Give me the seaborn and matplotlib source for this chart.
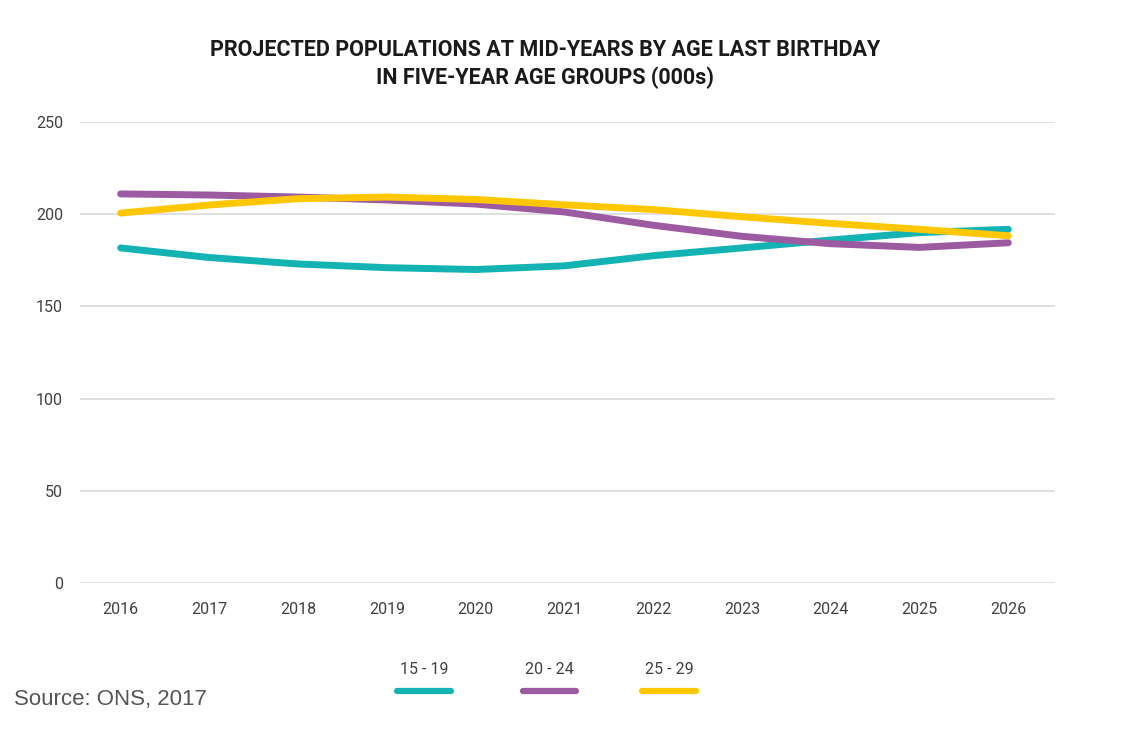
import matplotlib.pyplot as plt
import pandas as pd
import seaborn as sns
from matplotlib.lines import Line2D

# Data (thousands)
years = [2016, 2017, 2018, 2019, 2020, 2021, 2022, 2023, 2024, 2025, 2026]
age_15_19 = [181.7, 176.5, 173, 171, 170, 172, 177.5, 181.7, 186, 190, 191.8]
age_20_24 = [211, 210.4, 209.3, 207.7, 205.5, 201.2, 194, 188, 184, 182, 184.5]
age_25_29 = [200.6, 205, 208.4, 209.3, 208, 205.1, 202.5, 198.6, 195, 191.8, 188.3]
groups = ['15 - 19', '20 - 24', '25 - 29']
colors = ['#13B3B3', '#9C5AA0', '#FFC700']

df = pd.DataFrame({'year': years * 3,
                   'value': age_15_19 + age_20_24 + age_25_29,
                   'group': [g for g in groups for _ in years]})

sns.set_style('white')
plt.rcParams['font.family'] = ['Roboto', 'DejaVu Sans']

fig = plt.figure(figsize=(11.4, 7.47), dpi=100)
ax = fig.add_axes([0.070, 0.2195, 0.855, 0.6172])

sns.lineplot(data=df, x='year', y='value', hue='group', palette=colors,
             linewidth=5, ax=ax, legend=False, solid_capstyle='round')

ax.set_xlim(2015.54, 2026.52)
ax.set_ylim(0, 250)
ax.set_xticks(years)
ax.set_yticks([0, 50, 100, 150, 200, 250])
ax.set_xlabel('')
ax.set_ylabel('')
for s in ax.spines.values():
    s.set_visible(False)
ax.grid(axis='y', color='#DDDDDD', linewidth=1.3)
ax.set_axisbelow(True)
ax.tick_params(axis='x', length=0, pad=14, labelsize=11.5, labelcolor='#404040')
ax.tick_params(axis='y', length=0, pad=12, labelsize=11.5, labelcolor='#404040')

fig.text(0.478, 0.948, 'PROJECTED POPULATIONS AT MID-YEARS BY AGE LAST BIRTHDAY\nIN FIVE-YEAR AGE GROUPS (000s)',
         ha='center', va='top', fontsize=15.5, fontweight='bold', color='#1a1a1a', linespacing=1.3)

# legend: label above a short coloured bar
leg_x = [0.372, 0.482, 0.587]
for g, c, x in zip(groups, colors, leg_x):
    fig.text(x, 1 - 669 / 747, g, ha='center', va='center', fontsize=11.5, color='#404040')
    fig.add_artist(Line2D([x - 0.0235, x + 0.0235], [1 - 691 / 747] * 2, color=c,
                          linewidth=4.5, solid_capstyle='round', transform=fig.transFigure))

fig.text(0.012, 1 - 699 / 747, 'Source: ONS, 2017', ha='left', va='center',
         fontsize=16, color='#555555', family=['Liberation Sans', 'DejaVu Sans'])

fig.savefig('out.png', dpi=100)
